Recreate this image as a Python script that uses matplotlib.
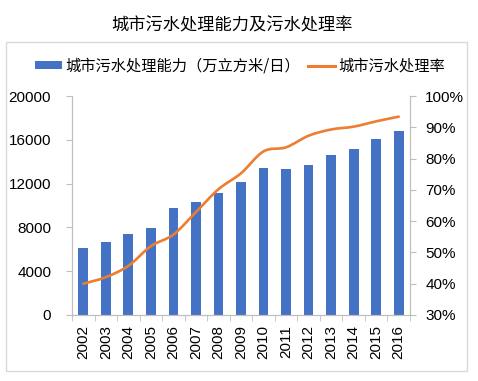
import numpy as np
import matplotlib.pyplot as plt
from matplotlib.path import Path
from matplotlib.patches import PathPatch, Rectangle, Patch
from matplotlib.lines import Line2D

plt.rcParams['font.family'] = ['Liberation Sans', 'Noto Sans CJK SC', 'DejaVu Sans']

# -----------------------------
# Data
# -----------------------------
years = ["2002", "2003", "2004", "2005", "2006", "2007", "2008", "2009",
         "2010", "2011", "2012", "2013", "2014", "2015", "2016"]
capacity = [6155, 6625, 7387, 7990, 9734, 10337, 11172, 12184,
            13393, 13304, 13693, 14653, 15124, 16065, 16779]
rate = [40.0, 42.1, 45.7, 52.0, 55.7, 62.9, 70.2, 75.3,
        82.3, 83.6, 87.3, 89.3, 90.2, 91.9, 93.4]

title = "城市污水处理能力及污水处理率"
bar_label = "城市污水处理能力（万立方米/日）"
line_label = "城市污水处理率"
left_ticks = [0, 4000, 8000, 12000, 16000, 20000]
right_ticks = [30, 40, 50, 60, 70, 80, 90, 100]

BLUE = "#4472C4"
ORANGE = "#ED7D31"
GRID = "#BFBFBF"

# -----------------------------
# Figure
# -----------------------------
W, H = 478, 381
fig = plt.figure(figsize=(W / 100, H / 100), dpi=100)

# outer frame
fig.patches.append(Rectangle((6 / W, 1 - 371 / H), 461 / W, 329 / H,
                             transform=fig.transFigure, fill=False,
                             edgecolor="#D9D9D9", linewidth=1.0))

fig.text(232 / W, 1 - 25 / H, title, ha="center", va="center",
         fontsize=12.4, family=["Noto Sans CJK SC", "DejaVu Sans"])

ax = fig.add_axes([72 / W, 1 - 315 / H, 338 / W, 219 / H])
ax2 = ax.twinx()

x = np.arange(len(years))
ax.bar(x, capacity, width=0.43, color=BLUE, zorder=2)
ax.set_xlim(-0.5, len(years) - 0.5)
ax.set_ylim(0, 20000)
ax.set_yticks(left_ticks)
ax.set_xticks(x)
ax.set_xticklabels(years, rotation=90)
ax.set_xticks(np.arange(len(years) + 1) - 0.5, minor=True)
ax.tick_params(axis="x", which="major", length=0, pad=7, labelsize=11)
ax.tick_params(axis="x", which="minor", length=4, color=GRID)
ax.tick_params(axis="y", length=4, color=GRID, labelsize=11, pad=11)

ax2.set_ylim(30, 100)
ax2.set_yticks(right_ticks)
ax2.set_yticklabels([f"{t}%" for t in right_ticks])
ax2.tick_params(axis="y", length=4, color=GRID, labelsize=11, pad=7)

for a in (ax, ax2):
    a.spines["top"].set_visible(False)
    for s in ("left", "right", "bottom"):
        a.spines[s].set_color(GRID)

# smoothed rate line (Bezier through the data points)
pts = np.column_stack([x, rate]).astype(float)
verts = [pts[0]]
codes = [Path.MOVETO]
n = len(pts)
for i in range(n - 1):
    p0 = pts[i - 1] if i > 0 else pts[i]
    p1 = pts[i]
    p2 = pts[i + 1]
    p3 = pts[i + 2] if i + 2 < n else pts[i + 1]
    verts += [p1 + (p2 - p0) / 6, p2 - (p3 - p1) / 6, p2]
    codes += [Path.CURVE4] * 3
ax2.add_patch(PathPatch(Path(verts, codes), fill=False, edgecolor=ORANGE,
                        linewidth=1.9, capstyle="round", zorder=3))

# legend
handles = [Patch(facecolor=BLUE, edgecolor="none"),
           Line2D([0], [0], color=ORANGE, linewidth=2.2)]
fig.legend(handles, [bar_label, line_label], loc="center",
           bbox_to_anchor=(240 / W, 1 - 66 / H), ncol=2, frameon=False,
           prop={"family": ["Noto Sans CJK SC", "DejaVu Sans"], "size": 11},
           handlelength=1.8, handleheight=0.45, handletextpad=0.2,
           columnspacing=0.5)

fig.savefig("out.png", dpi=100)
